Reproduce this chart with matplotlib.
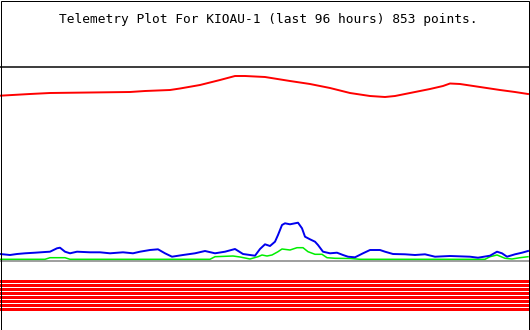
import matplotlib.pyplot as plt
from matplotlib.patches import Rectangle

# telemetry channels, x = plot column (0..528 over 96 h), y = height above zero line
red_x = [0, 30, 50, 130, 145, 170, 180, 200, 220, 235, 245, 265, 290, 310, 330, 350,
         370, 385, 395, 410, 430, 443, 450, 460, 480, 500, 515, 528]
red_y = [165.3, 167, 168, 169, 170, 171, 172.5, 176, 181, 185, 185, 184, 180, 177, 173, 168,
         165, 164, 165, 168, 172, 175, 177.5, 177, 174, 171, 169, 167]

blue_x = [0, 10, 17, 25, 35, 45, 50, 57, 60, 65, 70, 77, 90, 100, 110, 123, 133, 140, 150,
          158, 165, 172, 183, 195, 205, 215, 225, 235, 243, 250, 255, 260, 265, 270, 275,
          278, 282, 285, 290, 298, 302, 305, 310, 315, 318, 323, 330, 337, 343, 348, 355,
          363, 370, 380, 385, 393, 405, 415, 425, 435, 450, 470, 478, 490, 497, 502, 507,
          515, 522, 528]
blue_y = [7, 6, 7, 7.7, 8.3, 9, 9.3, 12.7, 13.3, 9.3, 7.7, 9.3, 8.7, 8.7, 7.7, 8.7, 7.7,
          9.3, 11, 11.7, 7.7, 4.3, 6, 7.7, 10, 7.7, 9.3, 12, 7, 6, 5.3, 12, 16.7, 15, 19.3,
          26, 36, 37.7, 36.7, 38.3, 32.7, 24.3, 21.7, 19.3, 16, 9.3, 7.7, 8.3, 6, 4.3, 3.7,
          7.7, 11, 11, 9.3, 7, 6.7, 6, 6.7, 4.3, 5, 4.3, 3.3, 5.3, 9.3, 7.7, 4.3, 6.7, 8.3, 10]

green_x = [0, 45, 50, 65, 70, 210, 215, 233, 240, 250, 258, 262, 267, 272, 278, 282, 290,
           297, 303, 308, 315, 322, 327, 335, 350, 360, 485, 490, 497, 505, 512, 520, 528]
green_y = [1.7, 1.7, 3.3, 3.3, 1.7, 1.7, 4.3, 5, 4, 2, 4.3, 6, 5, 6, 9.3, 12, 11, 13.3,
           13.3, 9.3, 6.7, 6.7, 3.3, 2.7, 2.5, 1.7, 1.7, 4.3, 6, 2.7, 2, 3.3, 4.3]

# digital status bits (1 = on)
status_bits = [1, 1, 1, 1, 1, 1, 1, 1]

title = "Telemetry Plot For KIOAU-1 (last 96 hours) 853 points."

fig = plt.figure(figsize=(5.3, 3.3), dpi=100)
ax = fig.add_axes([0, 0, 1, 1])
ax.set_xlim(0, 530)
ax.set_ylim(-69, 261)
ax.axis("off")

# upper limit line and zero line
ax.axhline(194, color="#404040", lw=1.44)
ax.axhline(0, color="#a0a0a0", lw=1.44)

ax.plot(red_x, red_y, color="#ff0000", lw=1.4)
ax.plot(green_x, green_y, color="#00ee00", lw=1.1)
ax.plot(blue_x, blue_y, color="#0000ee", lw=1.4)

for i, bit in enumerate(status_bits):
    if bit:
        ax.broken_barh([(0, 530)], (-22 - 4 * i, 3), color="#ff0000", lw=0)

fig.text(59 / 530, 1 - 22.5 / 330, title, family="DejaVu Sans Mono", fontsize=9.3,
         ha="left", va="baseline")

fig.patches.append(Rectangle((0.5 / 530, 0.5 / 330), 528 / 530, 329 / 330,
                             transform=fig.transFigure, fill=False, edgecolor="black",
                             lw=0.72))

fig.savefig("out.png", dpi=100)
